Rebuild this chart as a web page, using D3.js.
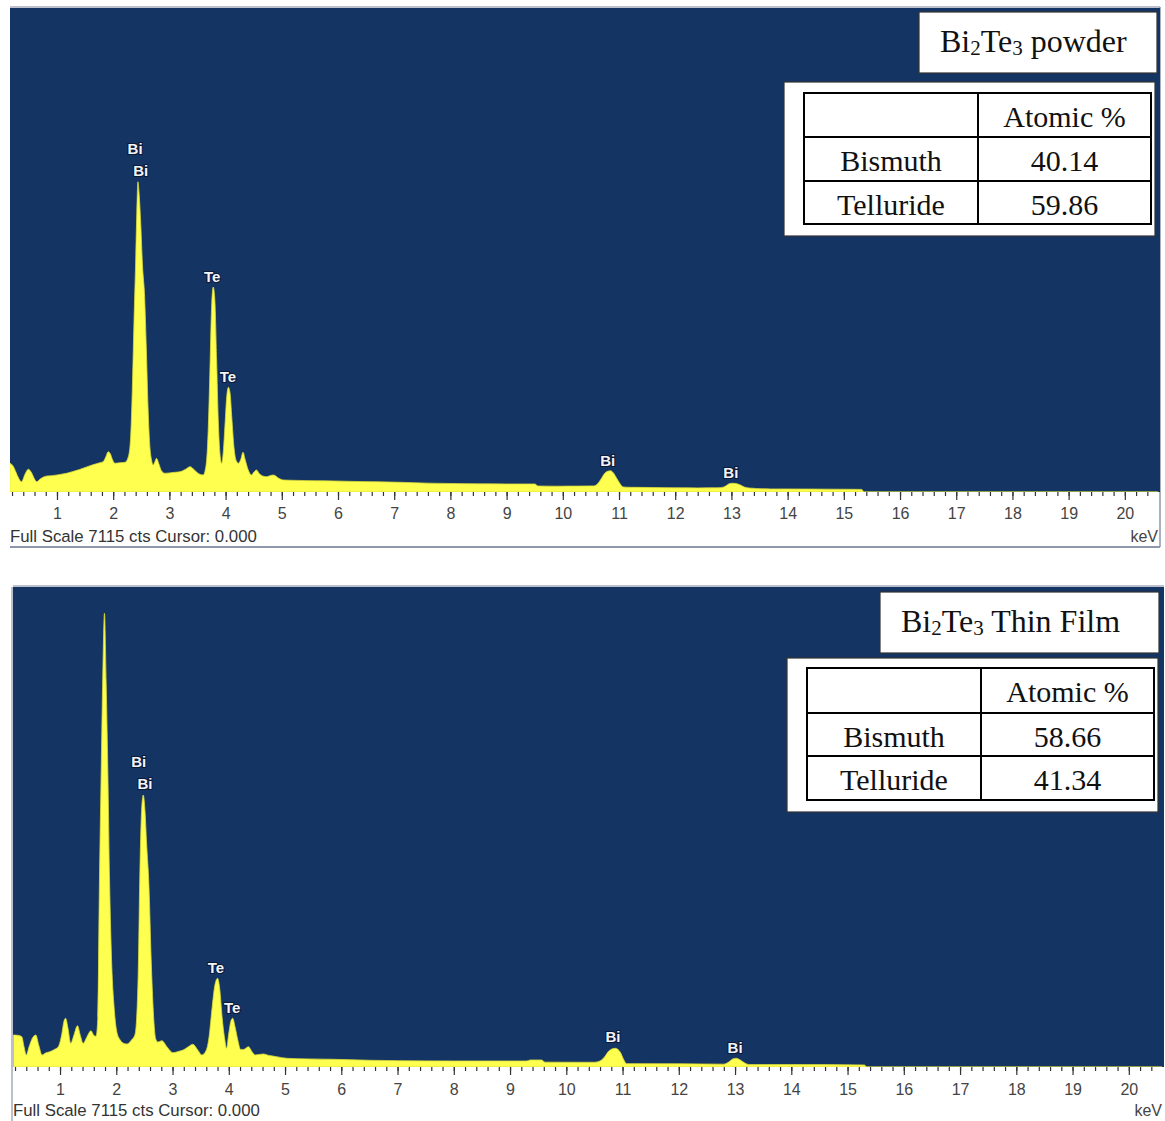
<!DOCTYPE html>
<html lang="en">
  <head>
    <meta charset="UTF-8" />
    <script src="https://d3js.org/d3.v7.min.js"></script>
    <title>EDS spectra Bi2Te3</title>
    <style>
      body { margin: 0; background: #fff; }
      svg { display: block; }
    </style>
  </head>
  <body>
    <div id="chart"></div>
    <script>
      // EDS spectrum, Bi2Te3 powder : [keV, counts]
      const powderSpectrum = [
        [0.16, 426], [0.22, 380], [0.27, 290], [0.32, 200], [0.37, 151], [0.43, 260], [0.49, 334],
        [0.55, 280], [0.6, 190], [0.64, 151], [0.7, 190], [0.76, 220], [0.82, 235], [0.9, 240],
        [1.0, 250], [1.08, 262], [1.17, 275], [1.28, 300], [1.4, 330], [1.5, 360], [1.59, 387],
        [1.68, 410], [1.76, 430], [1.82, 445], [1.87, 520], [1.91, 592], [1.95, 560], [1.99, 470],
        [2.03, 422], [2.12, 430], [2.21, 436], [2.27, 520], [2.31, 800], [2.34, 1500], [2.37, 2500],
        [2.4, 3400], [2.42, 4100], [2.44, 4560], [2.46, 4400], [2.49, 3950], [2.52, 3350], [2.56, 2850],
        [2.59, 2100], [2.62, 1250], [2.65, 700], [2.68, 480], [2.71, 397], [2.74, 440], [2.77, 495],
        [2.81, 420], [2.86, 310], [2.92, 275], [3.0, 280], [3.1, 290], [3.19, 298], [3.28, 330],
        [3.37, 372], [3.45, 320], [3.52, 270], [3.6, 250], [3.65, 380], [3.69, 900], [3.72, 1750],
        [3.75, 2700], [3.78, 3013], [3.81, 2800], [3.84, 1950], [3.87, 1050], [3.9, 560], [3.93, 422],
        [3.96, 600], [3.99, 1000], [4.02, 1400], [4.05, 1539], [4.08, 1450], [4.11, 1100], [4.15, 650],
        [4.19, 460], [4.23, 422], [4.27, 480], [4.31, 584], [4.35, 470], [4.4, 330], [4.46, 250],
        [4.5, 290], [4.55, 323], [4.6, 270], [4.66, 235], [4.73, 225], [4.79, 240], [4.85, 250],
        [4.95, 200], [5.03, 176], [5.3, 170], [5.6, 165], [5.92, 162], [6.3, 155], [6.7, 150],
        [7.1, 143], [7.6, 130], [8.0, 125], [8.5, 120], [9.0, 118], [9.3, 118], [9.5, 118],
        [9.56, 88], [9.9, 85], [10.3, 87], [10.55, 90], [10.62, 120], [10.68, 190], [10.74, 270],
        [10.8, 305], [10.85, 313], [10.9, 280], [10.96, 200], [11.02, 120], [11.07, 75], [11.2, 69],
        [11.6, 66], [12.0, 62], [12.4, 60], [12.75, 62], [12.85, 70], [12.92, 100], [12.97, 125],
        [13.02, 128], [13.08, 125], [13.14, 110], [13.2, 85], [13.26, 65], [13.32, 58], [13.4, 54],
        [13.45, 50], [13.7, 45], [14.2, 44], [14.7, 42], [15.1, 40], [15.32, 38], [15.36, 0], [20.59, 0]
      ];

      // EDS spectrum, Bi2Te3 thin film : [keV, counts]
      const filmSpectrum = [
        [0.17, 474], [0.25, 470], [0.32, 449], [0.36, 300], [0.4, 178], [0.45, 300], [0.51, 430],
        [0.57, 474], [0.62, 330], [0.68, 178], [0.75, 210], [0.82, 227], [0.9, 260], [0.97, 301],
        [1.03, 480], [1.07, 680], [1.1, 722], [1.14, 580], [1.19, 351], [1.25, 480], [1.31, 612],
        [1.36, 470], [1.41, 351], [1.48, 450], [1.55, 538], [1.6, 470], [1.64, 455], [1.67, 700],
        [1.7, 2700], [1.73, 4300], [1.76, 5800], [1.79, 6725], [1.82, 5700], [1.85, 4400], [1.88, 2800],
        [1.92, 1500], [1.96, 900], [2.01, 520], [2.07, 400], [2.13, 351], [2.19, 340], [2.27, 400],
        [2.33, 474], [2.36, 700], [2.39, 1400], [2.42, 2900], [2.45, 3800], [2.48, 4031], [2.51, 3800],
        [2.54, 3300], [2.58, 2700], [2.62, 1600], [2.66, 800], [2.7, 420], [2.74, 370], [2.81, 390],
        [2.9, 301], [3.01, 212], [3.1, 230], [3.19, 252], [3.28, 300], [3.36, 336], [3.45, 250],
        [3.52, 178], [3.6, 250], [3.65, 450], [3.7, 850], [3.75, 1200], [3.8, 1314], [3.84, 1150],
        [3.88, 750], [3.93, 400], [3.96, 277], [4.0, 500], [4.04, 690], [4.07, 722], [4.11, 600],
        [4.16, 400], [4.21, 260], [4.26, 260], [4.35, 301], [4.41, 230], [4.47, 178], [4.61, 193],
        [4.72, 170], [4.85, 153], [5.03, 129], [5.4, 120], [5.86, 114], [6.5, 100], [7.04, 93],
        [8.0, 89], [9.3, 89], [9.36, 104], [9.56, 104], [9.62, 72], [10.5, 70], [10.6, 90],
        [10.68, 150], [10.76, 240], [10.87, 277], [10.96, 220], [11.02, 110], [11.07, 50], [12.0, 48],
        [12.8, 42], [12.88, 70], [12.96, 120], [13.02, 129], [13.1, 100], [13.18, 55], [13.25, 36],
        [14.0, 36], [15.3, 30], [15.34, 0], [20.59, 0]
      ];

      // peak markers : element, keV, label height (counts)
      const powderPeakEl = ["Bi", "Bi", "Te", "Te", "Bi", "Bi"];
      const powderPeakKeV = [2.39, 2.49, 3.76, 4.04, 10.8, 12.99];
      const powderPeakCts = [5042, 4719, 3160, 1690, 456, 279];

      const filmPeakEl = ["Bi", "Bi", "Te", "Te", "Bi", "Bi"];
      const filmPeakKeV = [2.4, 2.51, 3.77, 4.06, 10.83, 13.0];
      const filmPeakCts = [4520, 4194, 1467, 874, 445, 282];

      // composition tables
      const tableHeader = ["", "Atomic %"];
      const powderRows = [["Bismuth", "40.14"], ["Telluride", "59.86"]];
      const filmRows = [["Bismuth", "58.66"], ["Telluride", "41.34"]];

      const majorTicks = [1, 2, 3, 4, 5, 6, 7, 8, 9, 10, 11, 12, 13, 14, 15, 16, 17, 18, 19, 20];
      const kevDomain = [0.164, 20.59];
      const fullScale = 7115;
      const footer = "Full Scale 7115 cts Cursor: 0.000";

      const W = 1165, H = 1121;
      const svg = d3.select("#chart").append("svg")
        .attr("width", W).attr("height", H)
        .style("background", "#fff");

      const panels = [
        {
          id: "p1", spectrum: powderSpectrum,
          el: powderPeakEl, kev: powderPeakKeV, cts: powderPeakCts,
          left: 10, right: 1158, top: 8, base: 492, tickBase: 519, footBase: 542,
          frame: { top: 7, bottom: 547, right: 1160, leftLine: false },
          sample: "powder", rows: powderRows,
          title: { x: 919, y: 12, w: 238, h: 61 },
          outer: { x: 784, y: 82, w: 371, h: 154 },
          grid: { x: 804, y: 93, w: 347, col: 174, rowH: [44, 44, 43] }
        },
        {
          id: "p2", spectrum: filmSpectrum,
          el: filmPeakEl, kev: filmPeakKeV, cts: filmPeakCts,
          left: 13, right: 1162, top: 587, base: 1067, tickBase: 1095, footBase: 1116,
          frame: { top: 586, bottom: null, right: null, leftLine: true },
          sample: "Thin Film", rows: filmRows,
          title: { x: 880, y: 592, w: 279, h: 61 },
          outer: { x: 787, y: 658, w: 371, h: 154 },
          grid: { x: 807, y: 668, w: 347, col: 174, rowH: [45, 43, 44] }
        }
      ];

      const blue = "#143564";
      const yellow = "#ffff4f";
      const sans = "'Liberation Sans', Arial, sans-serif";
      const serif = "'Liberation Serif', 'Times New Roman', serif";

      panels.forEach(drawPanel);

      function drawPanel(p) {
        const g = svg.append("g");
        const x = d3.scaleLinear().domain(kevDomain).range([p.left, p.right]);
        const y = d3.scaleLinear().domain([0, fullScale]).range([p.base, p.top]);

        // frame lines
        if (p.frame.top != null) {
          g.append("line").attr("x1", p.left).attr("x2", p.right + 2)
            .attr("y1", p.frame.top).attr("y2", p.frame.top)
            .attr("stroke", "#a4abbb").attr("stroke-width", 1.5);
        }
        if (p.frame.bottom != null) {
          g.append("line").attr("x1", p.left).attr("x2", p.frame.right)
            .attr("y1", p.frame.bottom).attr("y2", p.frame.bottom)
            .attr("stroke", "#8e97ab").attr("stroke-width", 2);
          g.append("line").attr("x1", p.frame.right).attr("x2", p.frame.right)
            .attr("y1", p.frame.top).attr("y2", p.frame.bottom)
            .attr("stroke", "#8e97ab").attr("stroke-width", 1.5);
        }
        if (p.frame.leftLine) {
          g.append("line").attr("x1", p.left - 1).attr("x2", p.left - 1)
            .attr("y1", p.top).attr("y2", H)
            .attr("stroke", "#a4abbb").attr("stroke-width", 1.5);
        }

        // plot background
        g.append("rect")
          .attr("x", p.left).attr("y", p.top)
          .attr("width", p.right - p.left + 2).attr("height", p.base - p.top)
          .attr("fill", blue);

        svg.append("clipPath").attr("id", "clip-" + p.id)
          .append("rect")
          .attr("x", p.left).attr("y", p.top)
          .attr("width", p.right - p.left + 2).attr("height", p.base - p.top);

        const area = d3.area()
          .x((d) => x(d[0]))
          .y0(p.base)
          .y1((d) => y(d[1]))
          .curve(d3.curveMonotoneX);

        g.append("path")
          .datum(p.spectrum)
          .attr("clip-path", "url(#clip-" + p.id + ")")
          .attr("fill", yellow)
          .attr("stroke", "#d9d93a")
          .attr("stroke-width", 0.8)
          .attr("d", area);

        // peak labels
        g.selectAll(".pk")
          .data(p.el)
          .join("text")
          .attr("x", (d, i) => x(p.kev[i]))
          .attr("y", (d, i) => y(p.cts[i]))
          .attr("dy", "0.36em")
          .attr("text-anchor", "middle")
          .style("font-family", sans)
          .style("font-size", "15px")
          .style("font-weight", "bold")
          .attr("fill", "#f4f4f8")
          .attr("stroke", "#0a1a38")
          .attr("stroke-width", 2.2)
          .attr("paint-order", "stroke")
          .text((d) => d);

        // minor ticks
        const minor = g.append("g")
          .attr("transform", "translate(0," + p.base + ")")
          .call(d3.axisBottom(x).tickValues(x.ticks(100)).tickSize(4).tickFormat(""));
        minor.select(".domain").remove();
        minor.selectAll("line").attr("stroke", "#333").attr("stroke-width", 1.2);

        // major ticks + labels
        const major = g.append("g")
          .attr("transform", "translate(0," + p.base + ")")
          .call(d3.axisBottom(x).tickValues(majorTicks).tickSize(8).tickFormat(d3.format("d")));
        major.select(".domain").remove();
        major.selectAll("line").attr("stroke", "#333").attr("stroke-width", 1.2);
        major.selectAll("text")
          .attr("y", p.tickBase - p.base)
          .attr("dy", null)
          .attr("fill", "#444")
          .style("font-family", sans)
          .style("font-size", "16px");

        g.append("text")
          .attr("x", p.left).attr("y", p.footBase)
          .attr("fill", "#333")
          .style("font-family", sans).style("font-size", "16.8px")
          .text(footer);
        g.append("text")
          .attr("x", p.right).attr("y", p.footBase)
          .attr("text-anchor", "end")
          .attr("fill", "#444")
          .style("font-family", sans).style("font-size", "16px")
          .text("keV");

        drawTable(p);
      }

      function drawTable(p) {
        const g = svg.append("g");
        const t = p.title;
        g.append("rect")
          .attr("x", t.x).attr("y", t.y).attr("width", t.w).attr("height", t.h)
          .attr("fill", "#fff").attr("stroke", "#333").attr("stroke-width", 1.2);

        const tt = g.append("text")
          .attr("x", t.x + 21).attr("y", t.y + 40)
          .attr("fill", "#111")
          .style("font-family", serif).style("font-size", "32px");
        tt.append("tspan").text("Bi");
        tt.append("tspan").attr("dy", 3).style("font-size", "21px").text("2");
        tt.append("tspan").attr("dy", -3).text("Te");
        tt.append("tspan").attr("dy", 3).style("font-size", "21px").text("3");
        tt.append("tspan").attr("dy", -3).text(" " + p.sample);

        const o = p.outer;
        g.append("rect")
          .attr("x", o.x).attr("y", o.y).attr("width", o.w).attr("height", o.h)
          .attr("fill", "#fff").attr("stroke", "#333").attr("stroke-width", 1.2);

        const gr = p.grid;
        const rows = [tableHeader].concat(p.rows);
        const rowTops = [gr.y];
        gr.rowH.forEach((h, i) => rowTops.push(rowTops[i] + h));
        const totalH = rowTops[rowTops.length - 1] - gr.y;

        g.append("rect")
          .attr("x", gr.x).attr("y", gr.y).attr("width", gr.w).attr("height", totalH)
          .attr("fill", "none").attr("stroke", "#000").attr("stroke-width", 2);
        g.append("line")
          .attr("x1", gr.x + gr.col).attr("x2", gr.x + gr.col)
          .attr("y1", gr.y).attr("y2", gr.y + totalH)
          .attr("stroke", "#000").attr("stroke-width", 2);
        rowTops.slice(1, -1).forEach((yy) => {
          g.append("line")
            .attr("x1", gr.x).attr("x2", gr.x + gr.w)
            .attr("y1", yy).attr("y2", yy)
            .attr("stroke", "#000").attr("stroke-width", 2);
        });

        const colCenters = [gr.x + gr.col / 2, gr.x + gr.col + (gr.w - gr.col) / 2];
        rows.forEach((r, i) => {
          r.forEach((cell, j) => {
            g.append("text")
              .attr("x", colCenters[j])
              .attr("y", rowTops[i] + 34)
              .attr("text-anchor", "middle")
              .attr("fill", "#111")
              .style("font-family", serif).style("font-size", "30px")
              .text(cell);
          });
        });
      }
    </script>
  </body>
</html>
